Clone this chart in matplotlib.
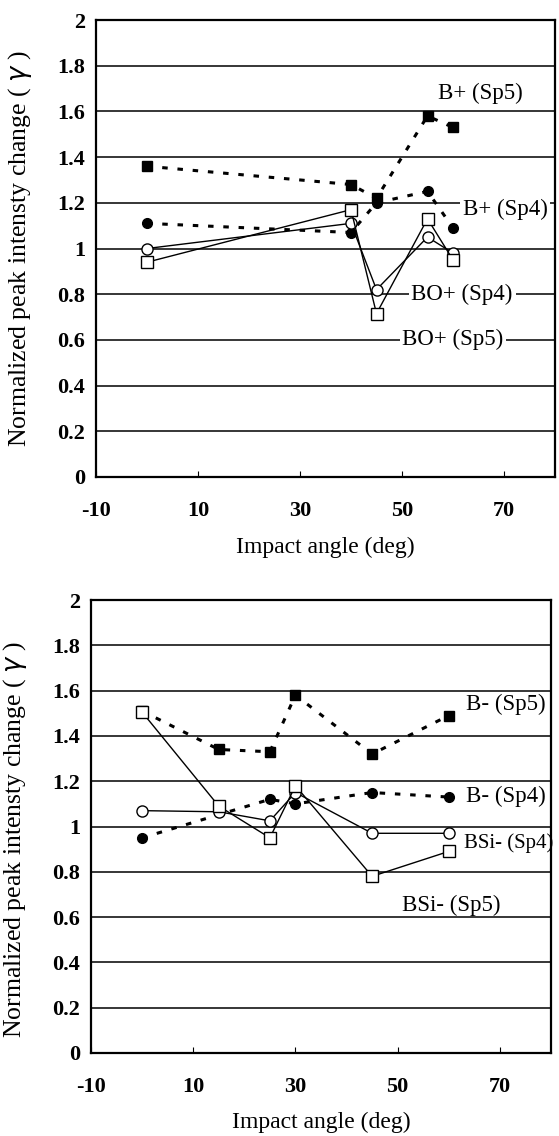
import numpy as np
import matplotlib.pyplot as plt

plt.rcParams['font.family'] = ['Liberation Serif', 'DejaVu Serif']

# top panel: positive ions
x_top = [0, 40, 45, 55, 60]
bp_sp5 = [1.36, 1.28, 1.22, 1.58, 1.53]
bp_sp4 = [1.11, 1.07, 1.20, 1.25, 1.09]
bop_sp4 = [1.00, 1.11, 0.82, 1.05, 0.98]
bop_sp5 = [0.94, 1.17, 0.715, 1.13, 0.95]

# bottom panel: negative ions
x_bm_sp5 = [0, 15, 25, 30, 45, 60]
bm_sp5 = [1.51, 1.34, 1.33, 1.58, 1.32, 1.49]
x_bm_sp4 = [0, 25, 30, 45, 60]
bm_sp4 = [0.95, 1.12, 1.10, 1.15, 1.13]
x_bsi = [0, 15, 25, 30, 45, 60]
bsi_sp4 = [1.07, 1.065, 1.025, 1.15, 0.97, 0.97]
bsi_sp5 = [1.505, 1.09, 0.95, 1.18, 0.78, 0.89]

xticks = [-10, 10, 30, 50, 70]
yticks = [0, 0.2, 0.4, 0.6, 0.8, 1, 1.2, 1.4, 1.6, 1.8, 2]
ytick_labels = ['0', '0.2', '0.4', '0.6', '0.8', '1', '1.2', '1.4', '1.6', '1.8', '2']

dot = (0, (1.8, 3.2))


def setup(ax, ylab_y):
    ax.set_xlim(-10, 80)
    ax.set_ylim(0, 2)
    for v in yticks[1:-1]:
        ax.axhline(v, color='black', lw=1.1, zorder=1)
    ax.set_xticks(xticks)
    ax.set_xticklabels([str(t) for t in xticks], fontsize=16, fontweight='bold')
    ax.set_yticks(yticks)
    ax.set_yticklabels(ytick_labels, fontsize=16, fontweight='bold')
    ax.tick_params(axis='x', direction='in', length=4, width=0.8, pad=17)
    ax.tick_params(axis='y', length=0, pad=8)
    for s in ax.spines.values():
        s.set_linewidth(1.6)
    ax.set_xlabel('Impact angle (deg)', fontsize=17)
    ax.xaxis.set_label_coords(0.5, -0.13)
    ax.set_ylabel('Normalized peak intensty change ( $\\gamma$ )', fontsize=18.5)
    ax.yaxis.set_label_coords(-0.135, ylab_y)


fig = plt.figure(figsize=(5.59, 11.36), dpi=100)
ax1 = fig.add_axes([96 / 559, 1 - 477 / 1136, 459 / 559, 457 / 1136])
ax2 = fig.add_axes([91 / 559, 1 - 1053 / 1136, 460 / 559, 453 / 1136])

setup(ax1, 0.5)
setup(ax2, 0.47)

# top
ax1.plot(x_top, bp_sp5, color='black', ls=dot, lw=2.2, marker='s', ms=7.5,
         mfc='black', mec='black', zorder=3)
ax1.plot(x_top, bp_sp4, color='black', ls=dot, lw=2.2, marker='o', ms=7,
         mfc='black', mec='black', zorder=3)
ax1.plot(x_top, bop_sp4, color='black', ls='-', lw=1.0, marker='o', ms=8,
         mfc='white', mec='black', mew=1.0, zorder=4)
ax1.plot(x_top, bop_sp5, color='black', ls='-', lw=1.0, marker='s', ms=8.5,
         mfc='white', mec='black', mew=1.0, zorder=4)

box = dict(facecolor='white', edgecolor='none', pad=2)
fs = 16.5
ax1.text(65.3, 1.68, 'B+ (Sp5)', fontsize=fs, ha='center', va='center', zorder=5)
ax1.text(70.2, 1.17, 'B+ (Sp4)', fontsize=fs, ha='center', va='center', bbox=box, zorder=5)
ax1.text(61.8, 0.80, 'BO+ (Sp4)', fontsize=fs, ha='center', va='center', bbox=box, zorder=5)
ax1.text(60.0, 0.60, 'BO+ (Sp5)', fontsize=fs, ha='center', va='center', bbox=box, zorder=5)

# bottom
ax2.plot(x_bm_sp5, bm_sp5, color='black', ls=dot, lw=2.2, marker='s', ms=7.5,
         mfc='black', mec='black', zorder=3)
ax2.plot(x_bm_sp4, bm_sp4, color='black', ls=dot, lw=2.2, marker='o', ms=7,
         mfc='black', mec='black', zorder=3)
ax2.plot(x_bsi, bsi_sp4, color='black', ls='-', lw=1.0, marker='o', ms=8,
         mfc='white', mec='black', mew=1.0, zorder=4)
ax2.plot(x_bsi, bsi_sp5, color='black', ls='-', lw=1.0, marker='s', ms=8.5,
         mfc='white', mec='black', mew=1.0, zorder=4)

ax2.text(71.2, 1.54, 'B- (Sp5)', fontsize=fs, ha='center', va='center', zorder=5)
ax2.text(71.2, 1.135, 'B- (Sp4)', fontsize=fs, ha='center', va='center', zorder=5)
ax2.text(63.0, 0.927, 'BSi- (Sp4)', fontsize=15, ha='left', va='center', zorder=5,
         clip_on=False)
ax2.text(60.4, 0.653, 'BSi- (Sp5)', fontsize=fs, ha='center', va='center', zorder=5)

plt.savefig('out.png', dpi=100)
